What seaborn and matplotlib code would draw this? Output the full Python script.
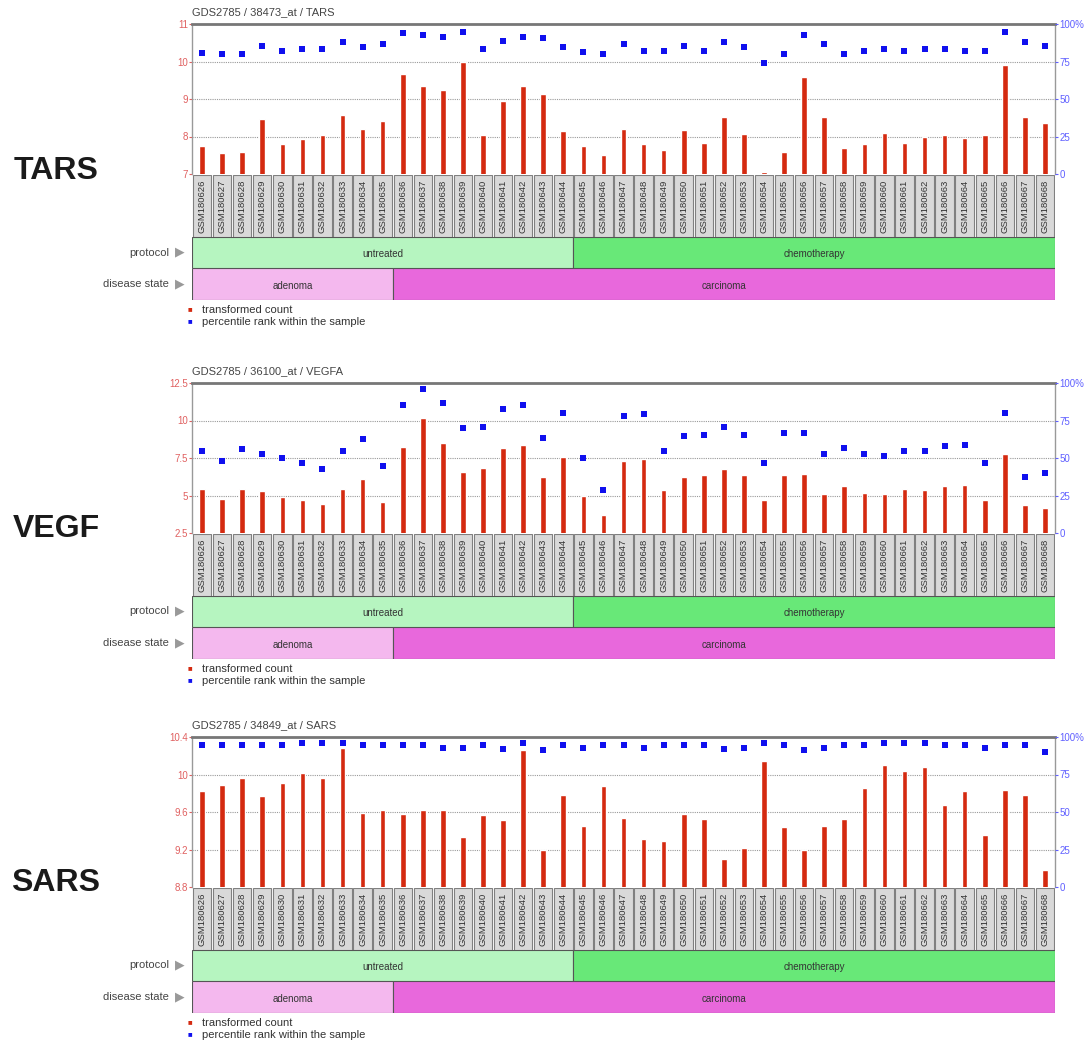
import numpy as np
import pandas as pd
import matplotlib
matplotlib.use("Agg")
import matplotlib.pyplot as plt
import seaborn as sns

# sample ids and group sizes
samples = ["GSM1806%02d" % i for i in range(26, 69)]
protocol_groups = ["untreated", "chemotherapy"]
protocol_sizes = [19, 24]
disease_groups = ["adenoma", "carcinoma"]
disease_sizes = [10, 33]

# TARS
tars_count = [7.75, 7.56, 7.59, 8.48, 7.80, 7.93, 8.05, 8.57, 8.19, 8.42,
              9.66, 9.34, 9.23, 10.0, 8.05, 8.94, 9.36, 9.14, 8.14, 7.75,
              7.52, 8.19, 7.79, 7.63, 8.17, 7.83, 8.53, 8.07, 7.05, 7.59,
              9.60, 8.51, 7.70, 7.80, 8.10, 7.82, 8.00, 8.03, 7.96, 8.03,
              9.90, 8.53, 8.37]
tars_pct = [80.7, 80, 80, 85.4, 81.8, 83.6, 83.6, 87.9, 84.7, 86.7,
            93.9, 92.8, 91.5, 94.4, 83.6, 88.5, 91.5, 90.8, 84.7, 81.6,
            80, 86.7, 82.2, 81.8, 85.4, 82.2, 88.1, 84.7, 73.9, 80,
            92.8, 86.7, 80, 81.8, 83.6, 81.8, 83.6, 83.6, 82.2, 82.2,
            94.4, 88.1, 85.4]

# VEGF
vegf_count = [5.43, 4.80, 5.43, 5.27, 4.91, 4.71, 4.46, 5.43, 6.10, 4.57,
              8.24, 10.18, 8.51, 6.58, 6.85, 8.18, 8.36, 6.24, 7.60, 4.98,
              3.67, 7.27, 7.43, 5.38, 6.24, 6.35, 6.78, 6.35, 4.71, 6.40,
              6.44, 5.11, 5.61, 5.18, 5.11, 5.43, 5.38, 5.61, 5.68, 4.71,
              7.79, 4.35, 4.19]
vegf_pct = [54.8, 47.9, 56, 52.8, 49.9, 46.7, 42.5, 54.8, 62.5, 44.9,
            85.6, 96, 87, 69.9, 71, 82.7, 85.6, 63.6, 80.2, 49.9,
            28.5, 77.8, 79.1, 54.8, 64.9, 65.6, 71, 65.6, 46.7, 66.5,
            66.5, 52.6, 56.9, 52.6, 51.5, 54.8, 54.8, 57.8, 58.9, 46.7,
            80.2, 37.5, 40.2]

# SARS
sars_count = [9.82, 9.89, 9.96, 9.77, 9.91, 10.02, 9.96, 10.28, 9.59, 9.62,
              9.58, 9.62, 9.62, 9.33, 9.57, 9.51, 10.26, 9.20, 9.78, 9.45,
              9.88, 9.54, 9.31, 9.29, 9.58, 9.53, 9.10, 9.22, 10.14, 9.44,
              9.20, 9.45, 9.53, 9.86, 10.10, 10.04, 10.08, 9.68, 9.82, 9.35,
              9.84, 9.78, 8.98]
sars_pct = [94.8, 94.8, 94.8, 94.4, 94.8, 96, 96, 96, 94.4, 94.4,
            94.4, 94.4, 93, 93, 94.4, 91.9, 96, 91.2, 94.4, 93,
            94.8, 94.8, 93, 94.4, 94.4, 94.4, 91.9, 93, 96, 94.4,
            91.2, 93, 94.4, 94.8, 96, 96, 96, 94.4, 94.8, 93,
            94.8, 94.8, 89.7]

panels = [
    ("TARS", "GDS2785 / 38473_at / TARS", tars_count, tars_pct,
     [7, 8, 9, 10, 11], ["7", "8", "9", "10", "11"]),
    ("VEGF", "GDS2785 / 36100_at / VEGFA", vegf_count, vegf_pct,
     [2.5, 5, 7.5, 10, 12.5], ["2.5", "5", "7.5", "10", "12.5"]),
    ("SARS", "GDS2785 / 34849_at / SARS", sars_count, sars_pct,
     [8.8, 9.2, 9.6, 10, 10.4], ["8.8", "9.2", "9.6", "10", "10.4"]),
]
panel_tops = [24, 383, 737]
gene_y = [171, 529, 883]

W, H = 1086, 1044
sns.set_style("white")
plt.rcParams["font.family"] = ["Liberation Sans", "DejaVu Sans"]

fig = plt.figure(figsize=(W / 100, H / 100), dpi=100)


def rect(x0, y0, x1, y1):
    return [x0 / W, 1 - y1 / H, (x1 - x0) / W, (y1 - y0) / H]


X0, X1 = 192, 1055
n = len(samples)
idx = np.arange(n)
red = "#d42a10"
blue = "#1010ee"

for p, (gene, title, count, pct, ticks, tlabels) in enumerate(panels):
    top = panel_tops[p]
    ax = fig.add_axes(rect(X0, top, X1, top + 150))
    df = pd.DataFrame({"x": idx, "count": count, "pct": pct})
    sns.barplot(data=df, x="x", y="count", ax=ax, color=red, width=0.28,
                saturation=1, native_scale=True)
    ax.set_ylim(ticks[0], ticks[-1])
    ax.set_xlim(-0.5, n - 0.5)
    ax.set_yticks(ticks)
    ax.set_yticklabels(tlabels, color="#e06060", fontsize=7)
    ax.tick_params(axis="y", length=2, pad=1, colors="#e06060")
    ax.set_xticks([])
    ax.set_xlabel("")
    ax.set_ylabel("")
    for t in ticks[1:-1]:
        ax.axhline(t, color="#999999", lw=0.8, ls=(0, (1, 1)), zorder=0)
    for s in ax.spines.values():
        s.set_color("#999999")
        s.set_linewidth(1)
    ax.spines["top"].set_color("#777777")
    ax.spines["top"].set_linewidth(2)
    ax.spines["bottom"].set_visible(False)

    ax2 = ax.twinx()
    sns.scatterplot(data=df, x="x", y="pct", ax=ax2, color=blue, marker="s",
                    s=13, linewidth=0, zorder=5)
    ax2.set_ylim(0, 100)
    ax2.set_xlim(-0.5, n - 0.5)
    ax2.set_yticks([0, 25, 50, 75, 100])
    ax2.set_yticklabels(["0", "25", "50", "75", "100%"], fontsize=7,
                        color="#6060ff")
    ax2.tick_params(axis="y", length=2, pad=1, colors="#6060ff")
    ax2.set_ylabel("")
    ax2.set_xlabel("")
    for s in ax2.spines.values():
        s.set_visible(False)

    fig.text(X0 / W, 1 - (top - 12) / H, title, fontsize=8, color="#444444",
             va="center", ha="left")
    fig.text(56 / W, 1 - gene_y[p] / H, gene, fontsize=23, weight="bold",
             color="#1a1a1a", ha="center", va="center")

    # sample name boxes
    axl = fig.add_axes(rect(X0, top + 151, X1, top + 213))
    axl.bar(idx, 1, width=0.92, color="#d9d9d9", edgecolor="#808080",
            linewidth=0.8)
    for i, name in enumerate(samples):
        axl.text(i, 0.5, name, rotation=90, ha="center", va="center",
                 fontsize=6.8, color="#333333")
    axl.set_xlim(-0.5, n - 0.5)
    axl.set_ylim(0, 1)
    axl.axis("off")

    # protocol / disease strips
    strips = [(protocol_groups, protocol_sizes, ["#b6f5c0", "#68e878"], "protocol"),
              (disease_groups, disease_sizes, ["#f4b8ee", "#e868dc"], "disease state")]
    ys = [(top + 213, top + 244), (top + 244, top + 276)]
    for (groups, sizes, cols, lab), (ya, yb) in zip(strips, ys):
        axs = fig.add_axes(rect(X0, ya, X1, yb))
        starts = np.cumsum([0] + sizes[:-1]) - 0.5
        axs.barh(0, sizes, left=starts, height=1, color=cols,
                 edgecolor="#555555", linewidth=0.8)
        for g, st, sz in zip(groups, starts, sizes):
            axs.text(st + sz / 2, -0.05, g, ha="center", va="center",
                     fontsize=7, color="#333333")
        axs.set_xlim(-0.5, n - 0.5)
        axs.set_ylim(-0.5, 0.5)
        axs.axis("off")
        yc = 1 - (ya + yb) / 2 / H
        fig.text(169 / W, yc, lab, ha="right", va="center", fontsize=8,
                 color="#444444")
        fig.text(180 / W, yc, "\u25B6", ha="center", va="center", fontsize=9,
                 color="#999999")

    # legend
    ly = top + 286
    fig.text(190 / W, 1 - ly / H, "\u25A0", color=red, fontsize=5.5,
             ha="center", va="center")
    fig.text(202 / W, 1 - ly / H, "transformed count", color="#333333",
             fontsize=8, va="center")
    fig.text(190 / W, 1 - (ly + 12) / H, "\u25A0", color=blue, fontsize=5.5,
             ha="center", va="center")
    fig.text(202 / W, 1 - (ly + 12) / H, "percentile rank within the sample",
             color="#333333", fontsize=8, va="center")

fig.savefig("out.png", dpi=100, facecolor="white")
